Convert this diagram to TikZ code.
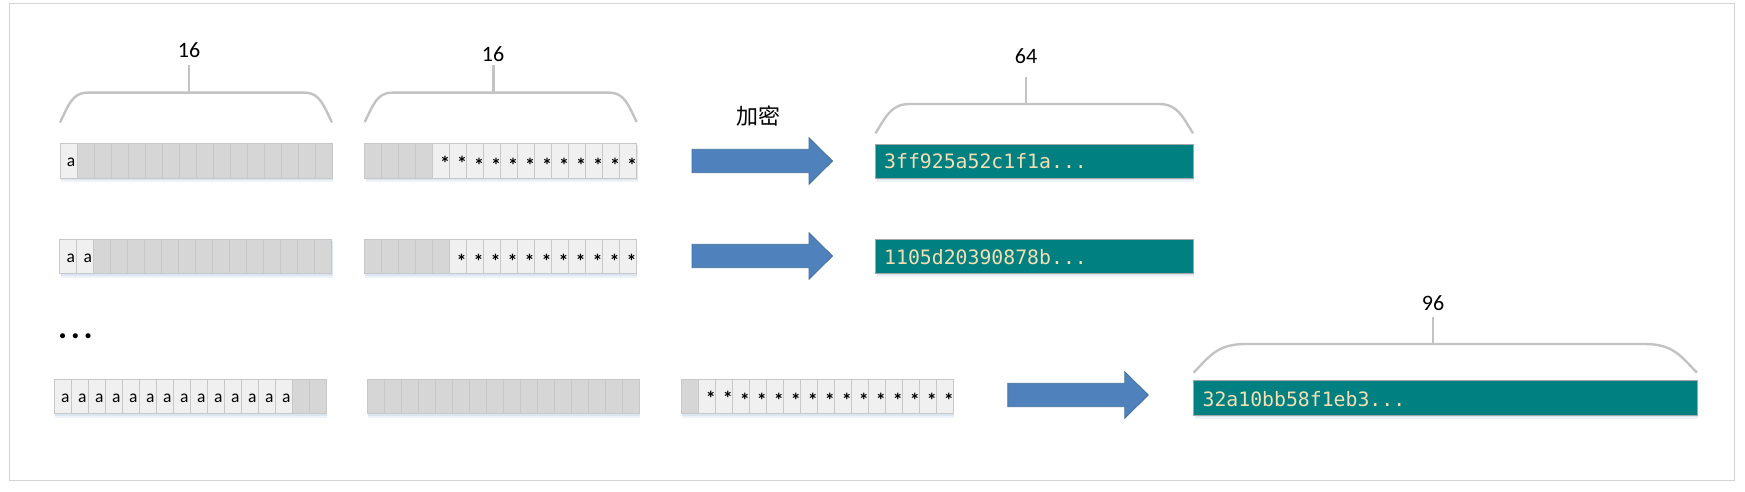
\documentclass[tikz,border=0pt]{standalone}
\usepackage{fontspec}
\setmainfont{Carlito}
\newfontfamily\cjkfont{Noto Sans CJK SC}
\newfontfamily\hexfont{DejaVu Sans Mono}
\usetikzlibrary{calc}
\definecolor{cellgray}{HTML}{D6D6D6}
\definecolor{celllight}{HTML}{F0F0F0}
\definecolor{cellline}{HTML}{C8C8C8}
\definecolor{tealfill}{HTML}{008080}
\definecolor{wheattext}{HTML}{F5DEB3}
\definecolor{arrowblue}{HTML}{4F81BD}
\definecolor{arrowedge}{HTML}{41719C}
\definecolor{bracegray}{HTML}{C3C3C3}
\definecolor{framegray}{HTML}{D4D4D4}
\definecolor{shadowA}{HTML}{DCE6F2}
\definecolor{shadowB}{HTML}{EEF3FA}
\newcommand\cellrow[4]{%
  \fill[shadowB] (#2+1,#3+4) rectangle ++(272,34.5);
  \fill[shadowA] (#2+1,#3+2) rectangle ++(272,34.5);
  \foreach \t [count=\i from 0] in {#4} {
    \node[ctype\t] (#1-\i) at (#2+\i*17, #3) {};
    \if\t a\node[atext] (#1-\i-t) at (#2+\i*17+11, #3+23) {a};\fi
    \if\t s\node[stext] (#1-\i-t) at (#2+\i*17+12.5, #3+14.3) {*};\fi
    \if\t S\node[stext] (#1-\i-t) at (#2+\i*17+12.5, #3+12) {*};\fi
  }
}
\newcommand\gbrace[7]{%
  \draw[bracestyle] (#1,#4) .. controls (#1+0.3*#7,#4-0.55*#4+0.55*#5) and (#1+0.45*#7,#5) .. (#1+#7,#5)
    -- (#2-#7,#5) .. controls (#2-0.45*#7,#5) and (#2-0.3*#7,#4-0.55*#4+0.55*#5) .. (#2,#4);
  \draw[bracestyle] (#3,#5) -- (#3,#6);
}
\newcommand\blockarrow[2]{%
  \filldraw[blockarrowstyle] (#1,#2-11.7) -- (#1+117,#2-11.7) -- (#1+117,#2-23.2) -- (#1+140.5,#2)
    -- (#1+117,#2+23.2) -- (#1+117,#2+11.7) -- (#1,#2+11.7) -- cycle;
}
\begin{document}
\begin{tikzpicture}[x=1pt,y=-1pt,
  cellbase/.style={draw=cellline, line width=0.8pt, minimum width=17pt, minimum height=34.5pt,
    inner sep=0pt, outer sep=0pt, anchor=north west},
  ctypeg/.style={cellbase, fill=cellgray},
  ctypea/.style={cellbase, fill=celllight},
  ctypes/.style={cellbase, fill=celllight},
  ctypeS/.style={cellbase, fill=celllight},
  atext/.style={anchor=base, inner sep=0pt, font=\fontsize{17.5pt}{18pt}\selectfont},
  stext/.style={anchor=north, inner sep=0pt, font=\fontsize{20pt}{20pt}\selectfont\bfseries},
  tealbox/.style={draw=gray!70, line width=0.8pt, fill=tealfill, anchor=north west,
    inner sep=0pt, outer sep=0pt},
  hextext/.style={anchor=base west, inner sep=0pt, text=wheattext,
    font=\hexfont\fontsize{19.8pt}{20pt}\selectfont},
  numlabel/.style={inner sep=0pt, font=\fontsize{22pt}{22pt}\selectfont},
  cjklabel/.style={inner sep=0pt, font=\cjkfont\fontsize{22pt}{22pt}\selectfont},
  bracestyle/.style={draw=bracegray, line width=2.4pt},
  blockarrowstyle/.style={fill=arrowblue, draw=arrowedge, line width=0.8pt},
]
\useasboundingbox (0,0) rectangle (1745,492);
\fill[white] (0,0) rectangle (1745,492);
\draw[framegray, line width=1.2pt] (9.3,3.7) rectangle (1734.7,480.3);

% braces and labels
\gbrace{60}{332}{189}{122.5}{92.7}{65}{27}
\gbrace{364.7}{636.7}{493.3}{122}{92.7}{65}{27}
\gbrace{875.5}{1193}{1026}{133.3}{104}{76.7}{34}
\gbrace{1193.5}{1697}{1432.7}{372.7}{344}{316.7}{52}
\node[numlabel] (l1) at (189,50) {16};
\node[numlabel] (l2) at (493,54) {16};
\node[numlabel] (l3) at (1026,56) {64};
\node[numlabel] (l4) at (1433,303) {96};
\node[cjklabel] (enc) at (758,116) {加密};

% row 1
\cellrow{r1a}{60}{143.5}{a,g,g,g,g,g,g,g,g,g,g,g,g,g,g,g}
\cellrow{r1b}{364.7}{143.5}{g,g,g,g,S,S,s,s,s,s,s,s,s,s,s,s}
% row 2
\cellrow{r2a}{59.8}{239.3}{a,a,g,g,g,g,g,g,g,g,g,g,g,g,g,g}
\cellrow{r2b}{364.2}{239.3}{g,g,g,g,g,s,s,s,s,s,s,s,s,s,s,s}
% dots
\node[anchor=base west, inner sep=0pt, font=\fontsize{34pt}{34pt}\selectfont\bfseries] (dots) at (58,338.7) {.\kern3.6pt.\kern3.6pt.};
% row 3
\cellrow{r3a}{54.3}{379}{a,a,a,a,a,a,a,a,a,a,a,a,a,a,g,g}
\cellrow{r3b}{367.3}{379}{g,g,g,g,g,g,g,g,g,g,g,g,g,g,g,g}
\cellrow{r3c}{681.3}{379}{g,S,S,s,s,s,s,s,s,s,s,s,s,s,s,s}

% arrows
\blockarrow{692}{161}
\blockarrow{692}{256}
\blockarrow{1007.8}{395}

% teal result boxes
\fill[shadowB] (876.5,148.3) rectangle ++(317.5,34);
\fill[shadowA] (876.5,146.3) rectangle ++(317.5,34);
\node[tealbox, minimum width=317.5pt, minimum height=34pt] (t1) at (875.5,144.3) {};
\node[hextext] (h1) at (884,168.5) {3ff925a52c1f1a...};
\fill[shadowB] (876.5,243.3) rectangle ++(317.5,34);
\fill[shadowA] (876.5,241.3) rectangle ++(317.5,34);
\node[tealbox, minimum width=317.5pt, minimum height=34pt] (t2) at (875.5,239.3) {};
\node[hextext] (h2) at (884,264) {1105d20390878b...};
\fill[shadowB] (1194.5,384) rectangle ++(503.7,35);
\fill[shadowA] (1194.5,382) rectangle ++(503.7,35);
\node[tealbox, minimum width=503.7pt, minimum height=35pt] (t3) at (1193.5,380) {};
\node[hextext] (h3) at (1202.4,406) {32a10bb58f1eb3...};
\end{tikzpicture}
\end{document}
